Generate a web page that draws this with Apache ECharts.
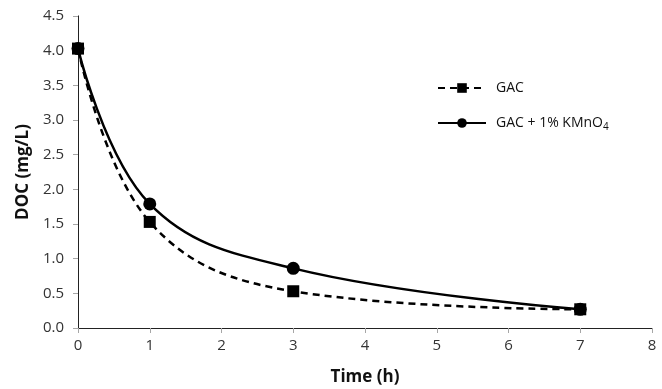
<!DOCTYPE html>
<html>
<head>
<meta charset="utf-8">
<script src="https://cdn.jsdelivr.net/npm/echarts@6/dist/echarts.min.js"></script>
<style>
  html, body { margin: 0; padding: 0; background: #fff; }
</style>
</head>
<body>
<div id="chart" style="width: 662px; height: 389px;"></div>
<script>
const timeH = [0, 1, 3, 7];
const gacDoc = [4.03, 1.53, 0.53, 0.27];
const kmno4Doc = [4.03, 1.79, 0.86, 0.27];
const seriesNames = ['GAC', 'GAC + 1% KMnO4'];

const chart = echarts.init(document.getElementById('chart'));

const pairs = (xs, ys) => xs.map((x, i) => [x, ys[i]]);
const font = 'Open Sans';

const option = {
  animation: false,
  grid: { left: 78, right: 10, top: 16, bottom: 61, containLabel: false, outerBoundsMode: 'none' },
  legend: {
    orient: 'vertical',
    left: 432,
    top: 76,
    itemGap: 21,
    itemWidth: 48,
    itemHeight: 12,
    data: seriesNames,
    textStyle: {
      fontFamily: font, fontSize: 14, color: '#111',
      rich: {
        a: { fontFamily: font, fontSize: 14, color: '#111', padding: [0, 0, 0, 5] },
        s: { fontFamily: font, fontSize: 10, color: '#111', padding: [9, 0, 0, 0] }
      }
    },
    formatter: function (name) {
      if (name.endsWith('KMnO4')) return '{a|' + name.slice(0, -1) + '}{s|4}';
      return '{a|' + name + '}';
    }
  },
  xAxis: [{
    type: 'value', min: 0, max: 8, interval: 1,
    name: 'Time (h)', nameLocation: 'middle', nameGap: 41,
    nameTextStyle: { fontFamily: font, fontSize: 17, fontWeight: 'bold', color: '#111' },
    axisLine: { lineStyle: { color: '#a6a6a6' } },
    axisTick: { show: true, length: 5, lineStyle: { color: '#a6a6a6' } },
    axisLabel: { fontFamily: font, fontSize: 15, color: '#333', margin: 10 },
    splitLine: { show: false }
  }, {
    type: 'value', min: 0, max: 8, position: 'top',
    axisLine: { show: true, lineStyle: { color: '#222' } },
    axisTick: { show: false }, axisLabel: { show: false }, splitLine: { show: false }
  }],
  yAxis: [{
    type: 'value', min: 0, max: 4.5, interval: 0.5,
    name: 'DOC (mg/L)', nameLocation: 'middle', nameGap: 45,
    nameTextStyle: { fontFamily: font, fontSize: 17, fontWeight: 'bold', color: '#111' },
    axisLine: { show: true, lineStyle: { color: '#a6a6a6' } },
    axisTick: { show: true, length: 5, lineStyle: { color: '#a6a6a6' } },
    axisLabel: { fontFamily: font, fontSize: 15, color: '#333', margin: 14,
      formatter: v => v.toFixed(1) },
    splitLine: { show: false }
  }, {
    type: 'value', min: 0, max: 4.5, position: 'right',
    axisLine: { show: true, lineStyle: { color: '#222' } },
    axisTick: { show: false }, axisLabel: { show: false }, splitLine: { show: false }
  }],
  series: [{
    name: seriesNames[0],
    type: 'line',
    smooth: 0.4,
    data: pairs(timeH, gacDoc),
    symbol: 'rect', symbolSize: 12,
    itemStyle: { color: '#000' },
    lineStyle: { color: '#000', width: 2.5, type: [7, 5] },
    z: 3
  }, {
    name: seriesNames[1],
    type: 'line',
    smooth: 0.4,
    data: pairs(timeH, kmno4Doc),
    symbol: 'circle', symbolSize: 13,
    itemStyle: { color: '#000' },
    lineStyle: { color: '#000', width: 2.5 },
    z: 2
  }]
};

chart.setOption(option);
</script>
</body>
</html>
